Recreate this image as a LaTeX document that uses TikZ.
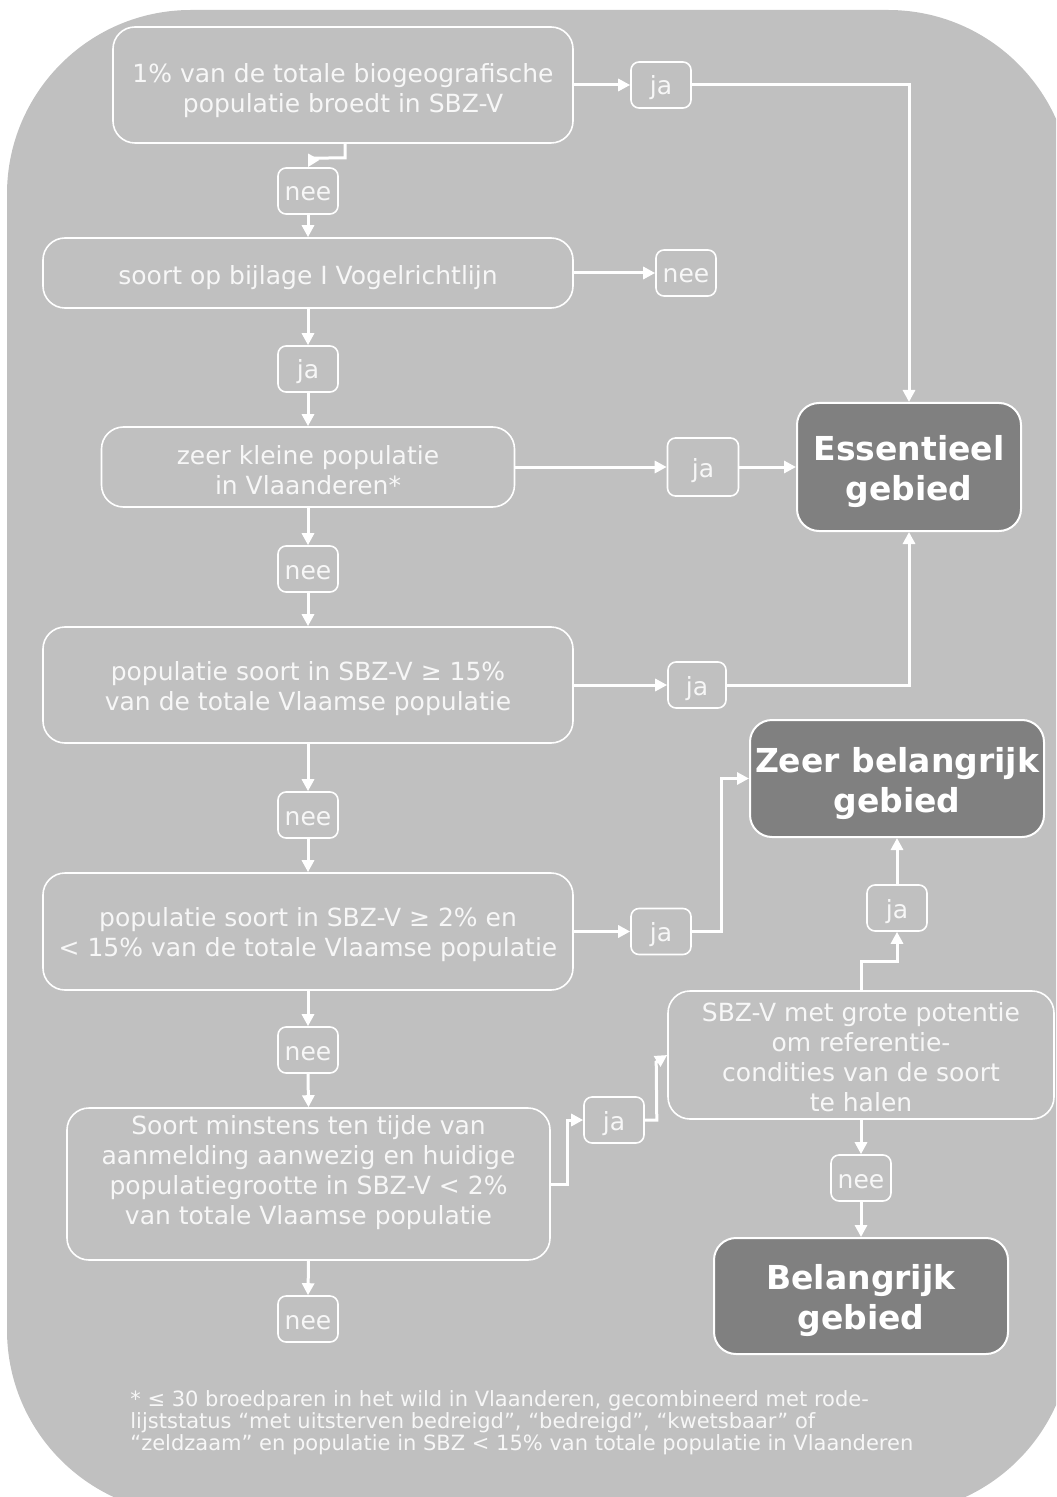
\documentclass[tikz,border=0pt]{standalone}
\usepackage{fontspec}
\setmainfont{DejaVu Sans}
\usetikzlibrary{arrows.meta,calc}
\definecolor{bggray}{HTML}{C0C0C0}
\definecolor{darkbox}{HTML}{808080}
\definecolor{txt}{HTML}{F7F7F7}
\newcommand\tstrut[1]{\rule{0pt}{#1}}
\begin{document}
\begin{tikzpicture}[x=0.5pt,y=-0.5pt,
  box/.style={draw=white,line width=0.8pt,rounded corners=11pt,text=txt,align=center,inner sep=0pt,font=\fontsize{12.5}{15}\selectfont},
  lbl/.style={draw=white,line width=0.8pt,rounded corners=4pt,text=txt,inner sep=0pt,minimum width=30pt,minimum height=23pt,text height=10pt,text depth=0pt,font=\fontsize{12.5}{15}\selectfont},
  endbox/.style={draw=white,fill=darkbox,line width=1pt,rounded corners=11pt,text=white,align=center,inner sep=0pt,font=\bfseries\fontsize{16.5}{20}\selectfont},
  pushup/.style={execute at end node={\rule[-#1]{0pt}{#1}}},
  arr/.style={draw=white,line width=1.5pt,-{Triangle[length=6pt,width=6pt]}}
]
\useasboundingbox (0,0) rectangle (1056,1497);
\clip (0,0) rectangle (1056,1497);
\fill[bggray, rounded corners=92pt] (7,10) rectangle (1072,1514);

% decision boxes
\node[box,minimum width=230pt,minimum height=58pt] (A) at (343,85) {\tstrut{15pt}1\% van de totale biogeografische\\populatie broedt in SBZ-V};
\node[box,minimum width=265pt,minimum height=35pt] (B) at (308,273) {\tstrut{14pt}soort op bijlage I Vogelrichtlijn};
\node[box,minimum width=206.5pt,minimum height=40pt] (C) at (308,467) {\tstrut{13pt}zeer kleine populatie\\in Vlaanderen*};
\node[box,minimum width=265pt,minimum height=58pt] (D) at (308,685) {\tstrut{13.5pt}populatie soort in SBZ-V ≥ 15\%\\van de totale Vlaamse populatie};
\node[box,minimum width=265pt,minimum height=58.5pt] (E) at (308,931.5) {\tstrut{12.5pt}populatie soort in SBZ-V ≥ 2\% en\\< 15\% van de totale Vlaamse populatie};
\node[box,pushup=14pt,minimum width=241.5pt,minimum height=76pt] (F) at (308.5,1184) {Soort minstens ten tijde van\\aanmelding aanwezig en huidige\\populatiegrootte in SBZ-V < 2\%\\van totale Vlaamse populatie};
\node[box,minimum width=193pt,minimum height=64pt] (G) at (861,1055) {\tstrut{11.5pt}SBZ-V met grote potentie\\om referentie-\\condities van de soort\\te halen};

% outcome boxes
\node[endbox,minimum width=112pt,minimum height=64pt] (Ess) at (909,467) {\tstrut{17.5pt}Essentieel\\gebied};
\node[endbox,minimum width=147pt,minimum height=58.5pt] (Zeer) at (897,778.5) {\tstrut{17.5pt}Zeer belangrijk\\gebied};
\node[endbox,minimum width=147pt,minimum height=58pt] (Bel) at (861,1296) {\tstrut{17.5pt}Belangrijk\\gebied};

% labels
\node[lbl] (ja1) at (661,85) {ja};
\node[lbl] (nee1) at (308,191) {nee};
\node[lbl] (nee2) at (686,273) {nee};
\node[lbl] (ja2) at (308,369) {ja};
\node[lbl,minimum width=35.5pt,minimum height=29pt] (ja3) at (703,467) {ja};
\node[lbl] (nee3) at (308,569) {nee};
\node[lbl,minimum width=29pt] (ja4) at (697,685) {ja};
\node[lbl] (nee4) at (308,815) {nee};
\node[lbl] (ja5) at (661,931.5) {ja};
\node[lbl] (nee5) at (308,1050) {nee};
\node[lbl] (ja6) at (614,1120) {ja};
\node[lbl] (ja7) at (897,908) {ja};
\node[lbl] (nee6) at (861,1178) {nee};
\node[lbl] (nee7) at (308,1319) {nee};

% connectors
\draw[arr] (A.east) -- (ja1.west);
\draw[arr] (ja1.east) -| (Ess.north);
\draw[arr] ($(A.south)+(2,0)$) -- ++(0,14) -- ($(nee1.north)+(5,-9)$) -- (nee1.north);
\draw[arr] (nee1.south) -- (B.north);
\draw[arr] (B.east) -- (nee2.west);
\draw[arr] (B.south) -- (ja2.north);
\draw[arr] (ja2.south) -- (C.north);
\draw[arr] (C.east) -- (ja3.west);
\draw[arr] (ja3.east) -- (Ess.west);
\draw[arr] (C.south) -- (nee3.north);
\draw[arr] (nee3.south) -- (D.north);
\draw[arr] (D.east) -- (ja4.west);
\draw[arr] (ja4.east) -| (Ess.south);
\draw[arr] (D.south) -- (nee4.north);
\draw[arr] (nee4.south) -- (E.north);
\draw[arr] (E.east) -- (ja5.west);
\draw[arr] (ja5.east) -- ++(30,0) |- (Zeer.west);
\draw[arr] (E.south) -- (nee5.north);
\draw[arr] (nee5.south) -- (F.north);
\draw[arr] (F.east) -- ++(17,0) |- (ja6.west);
\draw[arr] (ja6.east) -- ++(12,0) -- ($(G.west)+(-11,7)$) -- (G.west);
\draw[arr] (G.north) -- ++(0,-29) -| (ja7.south);
\draw[arr] (ja7.north) -- (Zeer.south);
\draw[arr] (G.south) -- (nee6.north);
\draw[arr] (nee6.south) -- (Bel.north);
\draw[arr] (F.south) -- (nee7.north);

% footnote
\node[anchor=north west,align=left,text=txt,inner sep=0pt,font=\fontsize{10.5}{11}\selectfont] (fn) at (130,1390)
 {* ≤ 30 broedparen in het wild in Vlaanderen, gecombineerd met rode-\\
  lijststatus “met uitsterven bedreigd”, “bedreigd”, “kwetsbaar” of\\
  “zeldzaam” en populatie in SBZ < 15\% van totale populatie in Vlaanderen};
\end{tikzpicture}
\end{document}
